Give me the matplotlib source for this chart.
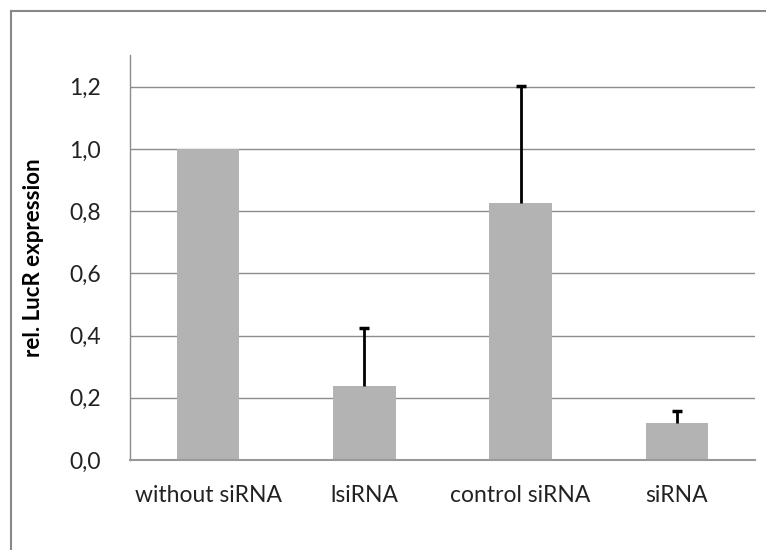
import numpy as np
import matplotlib
matplotlib.use("Agg")
import matplotlib.pyplot as plt
from matplotlib.lines import Line2D

# data
categories = ["without siRNA", "lsiRNA", "control siRNA", "siRNA"]
values = [1.0, 0.239, 0.827, 0.118]
err_upper = [0.0, 0.186, 0.376, 0.040]
yticks = [0.0, 0.2, 0.4, 0.6, 0.8, 1.0, 1.2]
ytick_labels = ["0,0", "0,2", "0,4", "0,6", "0,8", "1,0", "1,2"]

plt.rcParams['font.family'] = ['Lato', 'DejaVu Sans']

fig = plt.figure(figsize=(7.66, 5.5), dpi=100)
ax = fig.add_axes([0.1697, 0.1636, 0.8159, 0.7364])

x = np.arange(len(categories))
vals = np.array(values)
errs = np.array(err_upper)
ax.bar(x, vals, width=0.4, color="#b3b3b3", zorder=2)

# upper-only error bars (Excel "plus" direction)
has_err = errs > 0
tops = vals + errs
ax.vlines(x[has_err], vals[has_err], tops[has_err], color="black", linewidth=2, zorder=3)
ax.plot(x[has_err], tops[has_err], linestyle="none", marker="_", markersize=7.5,
        markeredgewidth=2.5, color="black", zorder=3)

ax.set_xlim(-0.5, len(categories) - 0.5)
ax.set_ylim(0, 1.302)
ax.set_yticks(yticks)
ax.set_yticklabels(ytick_labels)
ax.set_xticks(x)
ax.set_xticklabels(categories)
ax.tick_params(axis="both", length=0, labelsize=16.5, labelcolor="#222222")
ax.tick_params(axis="y", pad=21)
ax.tick_params(axis="x", pad=18)

ax.yaxis.grid(True, color="#8c8c8c", linewidth=1)
ax.set_axisbelow(True)
for s in ["top", "right"]:
    ax.spines[s].set_visible(False)
ax.spines["left"].set_color("#8c8c8c")
ax.spines["left"].set_linewidth(1)
ax.spines["bottom"].set_color("#999999")
ax.spines["bottom"].set_linewidth(1.5)
ax.spines["bottom"].set_zorder(4)

ax.set_ylabel("rel. LucR expression", fontsize=16, fontweight="bold", labelpad=18)

# outer chart frame (only top and left edges visible in the crop)
fig.add_artist(Line2D([0.0144, 0.0144], [0.0, 0.98], color="#888888", linewidth=1.5))
fig.add_artist(Line2D([0.0144, 1.0], [0.98, 0.98], color="#888888", linewidth=1.5))

fig.savefig("out.png", dpi=100)
